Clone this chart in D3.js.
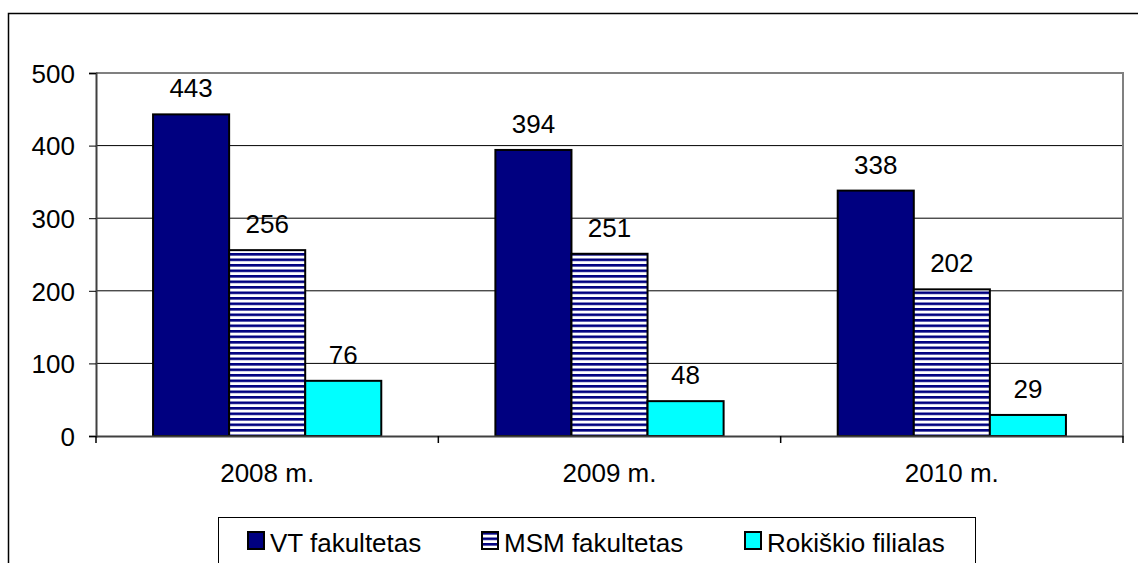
<!DOCTYPE html>
<html>
<head>
<meta charset="utf-8">
<script src="https://cdn.jsdelivr.net/npm/d3@7/dist/d3.min.js"></script>
<style>
  html, body { margin: 0; padding: 0; background: #fff; }
  svg { display: block; font-family: "Liberation Sans", Arial, sans-serif; }
</style>
</head>
<body>
<div id="chart"></div>
<script>
const years = ["2008 m.", "2009 m.", "2010 m."];
const seriesNames = ["VT fakultetas", "MSM fakultetas", "Rokiškio filialas"];
const vtValues = [443, 394, 338];
const msmValues = [256, 251, 202];
const rokValues = [76, 48, 29];
const yTicks = [0, 100, 200, 300, 400, 500];

const allValues = [vtValues, msmValues, rokValues];
const rows = [];
years.forEach((yr, i) => {
  seriesNames.forEach((s, j) => rows.push({year: yr, series: s, value: allValues[j][i]}));
});

const svg = d3.select("#chart")
  .append("svg")
    .attr("width", 1138)
    .attr("height", 563);

// stripe pattern for the MSM bars
const pat = svg.append("defs").append("pattern")
    .attr("id", "stripes")
    .attr("patternUnits", "userSpaceOnUse")
    .attr("width", 10)
    .attr("height", 5.5);
pat.append("rect").attr("width", 10).attr("height", 5.5).attr("fill", "#fff");
pat.append("rect").attr("y", 0).attr("width", 10).attr("height", 2.6).attr("fill", "#000080");

const fills = {
  "VT fakultetas": "#000080",
  "MSM fakultetas": "url(#stripes)",
  "Rokiškio filialas": "#00ffff"
};

// outer chart frame
svg.append("rect")
    .attr("x", 8.5).attr("y", 13.5)
    .attr("width", 1200).attr("height", 600)
    .attr("fill", "none")
    .attr("stroke", "#000")
    .attr("stroke-width", 1.5);

const plotLeft = 96, plotRight = 1123, plotTop = 73, plotBottom = 436;

const x = d3.scaleBand()
    .domain(years)
    .range([plotLeft, plotRight]);

const barW = x.bandwidth() / 4.5;
const xInner = d3.scaleBand()
    .domain(seriesNames)
    .range([barW * 0.75, x.bandwidth() - barW * 0.75]);

const y = d3.scaleLinear()
    .domain([0, 500])
    .range([plotBottom, plotTop]);

// gridlines
svg.append("g")
  .selectAll("line")
  .data(yTicks.filter(t => t > 0 && t < 500))
  .enter()
  .append("line")
    .attr("x1", plotLeft).attr("x2", plotRight)
    .attr("y1", d => y(d)).attr("y2", d => y(d))
    .attr("stroke", "#000")
    .attr("stroke-width", 1);

// plot area border (top and right in grey)
svg.append("path")
    .attr("d", `M${plotLeft},${plotTop}H${plotRight}V${plotBottom}`)
    .attr("fill", "none")
    .attr("stroke", "#808080")
    .attr("stroke-width", 2);

// bars
svg.append("g")
  .selectAll("rect")
  .data(rows)
  .enter()
  .append("rect")
    .attr("x", d => x(d.year) + xInner(d.series))
    .attr("y", d => y(d.value))
    .attr("width", xInner.bandwidth())
    .attr("height", d => plotBottom - y(d.value))
    .attr("fill", d => fills[d.series])
    .attr("stroke", "#000")
    .attr("stroke-width", 2);

// value labels
svg.append("g")
  .selectAll("text")
  .data(rows)
  .enter()
  .append("text")
    .attr("x", d => x(d.year) + xInner(d.series) + xInner.bandwidth() / 2)
    .attr("y", d => y(d.value) - 17)
    .attr("text-anchor", "middle")
    .attr("font-size", 26)
    .text(d => d.value);

// y axis
const yAxis = svg.append("g")
    .attr("transform", `translate(${plotLeft},0)`)
    .call(d3.axisLeft(y).tickValues(yTicks).tickSize(7).tickPadding(14));
yAxis.select(".domain").attr("stroke", "#404040").attr("stroke-width", 2);
yAxis.selectAll(".tick line").attr("stroke", "#000");
yAxis.selectAll(".tick text")
    .attr("font-size", 26)
    .attr("font-family", "Liberation Sans, Arial, sans-serif")
    .attr("fill", "#000")
    .attr("dy", "0.36em");

// x axis
const xAxis = svg.append("g")
    .attr("transform", `translate(0,${plotBottom})`)
    .call(d3.axisBottom(x).tickSize(0).tickPadding(28));
xAxis.select(".domain").attr("stroke", "#404040").attr("stroke-width", 2);
xAxis.selectAll(".tick text")
    .attr("font-size", 26)
    .attr("font-family", "Liberation Sans, Arial, sans-serif")
    .attr("fill", "#000");

// category separators
svg.append("g")
  .selectAll("line")
  .data(years.map(d => x(d)).concat([plotRight]))
  .enter()
  .append("line")
    .attr("x1", d => d).attr("x2", d => d)
    .attr("y1", plotBottom).attr("y2", plotBottom + 7)
    .attr("stroke", "#000")
    .attr("stroke-width", 1.5);

// legend
const legend = svg.append("g");
legend.append("rect")
    .attr("x", 218.5).attr("y", 517.5)
    .attr("width", 757).attr("height", 80)
    .attr("fill", "#fff")
    .attr("stroke", "#000")
    .attr("stroke-width", 1);

const legendX = [248, 482, 745];
const items = legend.selectAll("g.item")
  .data(seriesNames)
  .enter()
  .append("g")
    .attr("class", "item")
    .attr("transform", (d, i) => `translate(${legendX[i]},532)`);
items.append("rect")
    .attr("width", 16).attr("height", 17)
    .attr("fill", d => fills[d])
    .attr("stroke", "#000")
    .attr("stroke-width", 2);
items.append("text")
    .attr("x", 22)
    .attr("y", 20)
    .attr("font-size", 26)
    .text(d => d);
</script>
</body>
</html>
